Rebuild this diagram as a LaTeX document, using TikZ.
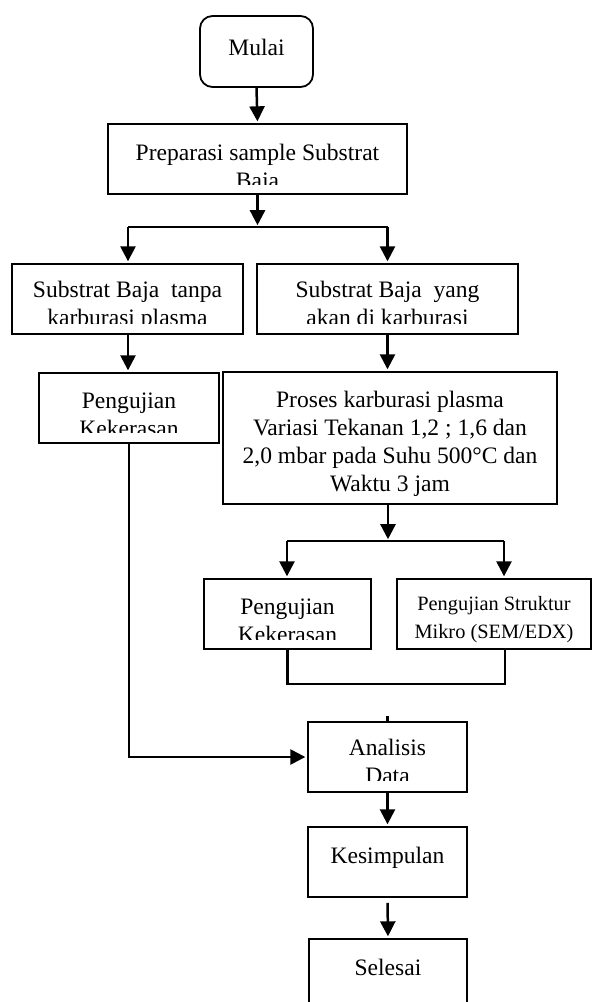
\documentclass[tikz,border=0pt]{standalone}
\usepackage{fontspec}
\setmainfont{Liberation Serif}
\usetikzlibrary{arrows.meta}

\begin{document}
\begin{tikzpicture}[x=0.56pt, y=-0.56pt,
  kotak/.style={draw, line width=1pt, inner sep=0pt},
  ukuran/.style 2 args={minimum width=#1*0.56pt, minimum height=#2*0.56pt},
  teks/.style={align=center, inner sep=0pt, anchor=base, font=\fontsize{13.2}{15.7}\selectfont},
  garis/.style={line width=1.4pt},
  panah/.style={garis, -{Triangle[length=8.4pt,width=8.4pt]}, shorten >=1pt}]
\useasboundingbox (0,0) rectangle (602,1002);

% Mulai dan preparasi
\node[kotak, ukuran={113}{71}, rounded corners=7pt] (mulai) at (256.5,51.5) {};
\node[teks] (mulaiteks) at ([yshift=-22.4pt]mulai.north) {Mulai};
\node[kotak, ukuran={299}{70}] (prep) at (257.5,159) {};
\begin{scope}
  \clip (prep.north west) rectangle ([yshift=5.6pt]prep.south east);
  \node[teks] (prepteks) at ([yshift=-36.4pt]prep.north) {Preparasi sample Substrat\\Baja};
\end{scope}

% Dua cabang substrat
\node[kotak, ukuran={231}{70}] (subL) at (127.5,299) {};
\begin{scope}
  \clip (subL.north west) rectangle ([yshift=6.2pt]subL.south east);
  \node[teks] (subLteks) at ([yshift=-35.2pt]subL.north) {Substrat Baja\ \ tanpa\\karburasi plasma};
\end{scope}
\node[kotak, ukuran={261}{70}] (subR) at (387.5,299) {};
\begin{scope}
  \clip (subR.north west) rectangle ([yshift=6.2pt]subR.south east);
  \node[teks] (subRteks) at ([yshift=-35.2pt]subR.north) {Substrat Baja\ \ yang\\akan di karburasi};
\end{scope}

\node[kotak, ukuran={180}{70}] (pengL) at (129,408) {};
\begin{scope}
  \clip (pengL.north west) rectangle ([yshift=6.2pt]pengL.south east);
  \node[teks] (pengLteks) at ([yshift=-35.8pt]pengL.north) {Pengujian\\Kekerasan};
\end{scope}
\node[kotak, ukuran={334}{132}] (proses) at (390,438) {};
\node[teks] (prosesteks) at ([yshift=-67.2pt]proses.north) {Proses karburasi plasma\\Variasi Tekanan 1,2 ; 1,6 dan\\2,0 mbar pada Suhu 500°C dan\\Waktu 3 jam};

% Pengujian setelah karburasi
\node[kotak, ukuran={167}{70}] (pengK) at (287.5,614) {};
\begin{scope}
  \clip (pengK.north west) rectangle ([yshift=5.6pt]pengK.south east);
  \node[teks] (pengKteks) at ([yshift=-35.8pt]pengK.north) {Pengujian\\Kekerasan};
\end{scope}
\node[kotak, ukuran={194}{70}] (pengM) at (494,614) {};
\node[teks, font=\fontsize{11.4}{15.4}\selectfont] (pengMteks) at ([yshift=-33.6pt]pengM.north) {Pengujian Struktur\\Mikro (SEM/EDX)};

% Analisis sampai selesai
\node[kotak, ukuran={159}{70}] (analisis) at (387.5,757) {};
\begin{scope}
  \clip (analisis.north west) rectangle ([yshift=6.7pt]analisis.south east);
  \node[teks] (analisisteks) at ([yshift=-35.2pt]analisis.north) {Analisis\\Data};
\end{scope}
\node[kotak, ukuran={159}{70}] (simpul) at (387.5,862) {};
\node[teks] (simpulteks) at ([yshift=-20.7pt]simpul.north) {Kesimpulan};
\node[kotak, ukuran={158}{70}] (selesai) at (388,974) {};
\node[teks] (selesaiteks) at ([yshift=-20.7pt]selesai.north) {Selesai};

% titik percabangan
\coordinate (c1) at (257.5,227);
\coordinate (cL) at (128,227);
\coordinate (cR) at (387.5,227);
\coordinate (cP) at (388,541);
\coordinate (cK) at (287,541);
\coordinate (cM) at (504,541);
\coordinate (cGab) at (505,684);

% Panah
\draw[panah] (mulai.south) -- (prep.north);
\draw[panah] (prep.south) -- (c1);
\draw[garis] (cL) -- (cR);
\draw[panah] (cL) -- (cL |- subL.north);
\draw[panah] (cR) -- (cR |- subR.north);
\draw[panah] (cL |- subL.south) -- (cL |- pengL.north);
\draw[panah] (cR |- subR.south) -- (cR |- proses.north);
\draw[panah] (cP |- proses.south) -- (cP);
\draw[garis] (cK) -- (cM);
\draw[panah] (cK) -- (cK |- pengK.north);
\draw[panah] (cM) -- (cM |- pengM.north);
\draw[garis] (pengK.south) |- (cGab) -- (cGab |- pengM.south);
\draw[garis] (analisis.north) -- ++(0,-5);
\draw[panah] (pengL.south) |- (analisis.west);
\draw[panah] (analisis.south) -- (simpul.north);
\draw[panah, shorten <=2.8pt] (simpul.south) -- (selesai.north);
\end{tikzpicture}
\end{document}
